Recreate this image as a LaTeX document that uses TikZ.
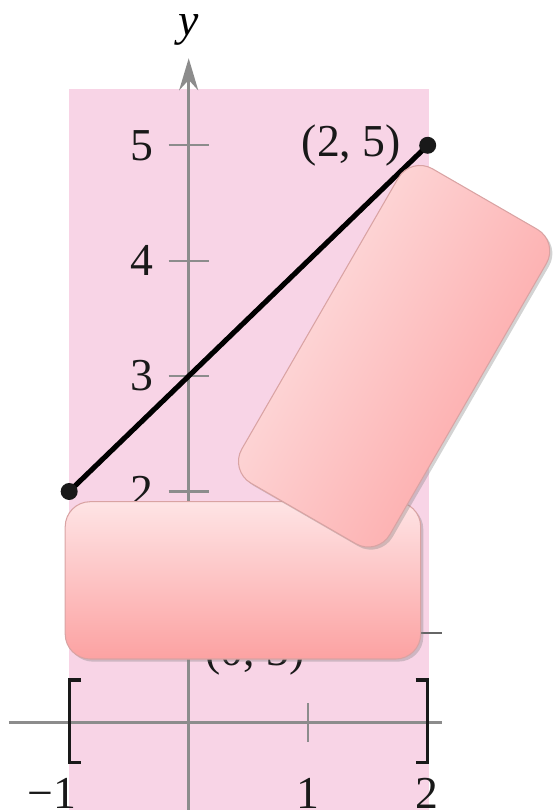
\documentclass[tikz,border=0pt]{standalone}
\usepackage{fontspec}
\setmainfont{Liberation Serif}
\usepackage{tikz}
\usetikzlibrary{arrows.meta,calc,positioning,shadows}

\definecolor{bgpink}{HTML}{F8D4E6}
\definecolor{axisgray}{HTML}{8C8C8C}
\definecolor{padlight}{HTML}{FEE4E5}
\definecolor{paddark}{HTML}{FCA2A2}
\definecolor{padedge}{HTML}{D9A3A3}

\tikzset{
  axisline/.style={axisgray, line width=1.7pt},
  tickline/.style={axisgray, line width=1.3pt},
  numlabel/.style={font=\fontsize{26}{30}\selectfont, text=black!90, inner sep=0pt},
  bracketline/.style={black!90, line width=1.8pt, line join=miter},
  coverpad/.style={draw=padedge, line width=0.6pt, rounded corners=0.5cm,
    top color=padlight, bottom color=paddark,
    drop shadow={shadow xshift=1.5pt, shadow yshift=-1.5pt, opacity=0.35}},
}

\begin{document}
\begin{tikzpicture}[x=2.39cm, y=2.308cm]
            \useasboundingbox (-1.579,-0.760) rectangle (3.049,6.259);
            \def\a{-1}
            \def\b{2}
            \coordinate (lo) at (\a, \a+3);
            \coordinate (hi) at (\b, \b+3);
            \coordinate (xl) at (-1.505, 0);
            \coordinate (xr) at (2.117, 0);
            \coordinate (yb) at (0, -0.76);
            \coordinate (yt) at (0, 5.754);
            % shaded interval
            \fill[bgpink] (-1.0,-0.76) rectangle (2.015,5.488);
            % axes
            \draw[axisline] (xl) -- (xr);
            \draw[axisline, -{Stealth[length=0.64cm, width=0.38cm]}] (yb) -- (yt);
            \node[font=\fontsize{26}{30}\selectfont\itshape, inner sep=0pt] (ylab) at (0,6.0) {y};
            % ticks
            \draw[tickline] (-0.167,1) -- (0.167,1);
            \draw[tickline] (-0.167,2) -- (0.167,2);
            \draw[tickline] (-0.167,3) -- (0.167,3);
            \draw[tickline] (-0.167,4) -- (0.167,4);
            \draw[tickline] (-0.167,5) -- (0.167,5);
            \draw[tickline] (1,-0.169) -- (1,0.169);
            \node[numlabel, anchor=east] (y2) at (-0.29,2) {2};
            \node[numlabel, anchor=east] (y3) at (-0.29,3) {3};
            \node[numlabel, anchor=east] (y4) at (-0.29,4) {4};
            \node[numlabel, anchor=east] (y5) at (-0.29,5) {5};
            \node[numlabel, anchor=north east] (xm1) at (-0.94,-0.483) {−1};
            \node[numlabel, anchor=north] (x1) at (1,-0.483) {1};
            \node[numlabel, anchor=north] (x2) at (1.99,-0.483) {2};
            % interval brackets
            \draw[bracketline] (\a+0.1,0.366) -- (\a,0.366) -- (\a,-0.345) -- (\a+0.1,-0.345);
            \draw[bracketline] (\b-0.1,0.366) -- (\b,0.366) -- (\b,-0.345) -- (\b-0.1,-0.345);
            % graph
            \draw[line width=2.9pt, black] (lo) -- (hi);
            \fill[black!90] (lo) circle (0.17cm);
            \fill[black!90] (hi) circle (0.17cm);
            \node[numlabel, left=0.53cm of hi] (hilab) {(2, 5)};
            \node[numlabel, anchor=base] (midlab) at (0.555,0.496) {(0, 3)};
            \draw[black!60, line width=1.1pt] (1.8,0.774) -- (2.117,0.774);
            % cover pads
            \node[coverpad, minimum width=7.11cm, minimum height=3.146cm] (padlow) at (0.454,1.23) {};
            \node[coverpad, shading angle=60, minimum width=7.26cm, minimum height=3.42cm, rotate=60] (padtilt) at (1.719,3.172) {};
          \end{tikzpicture}
\end{document}
